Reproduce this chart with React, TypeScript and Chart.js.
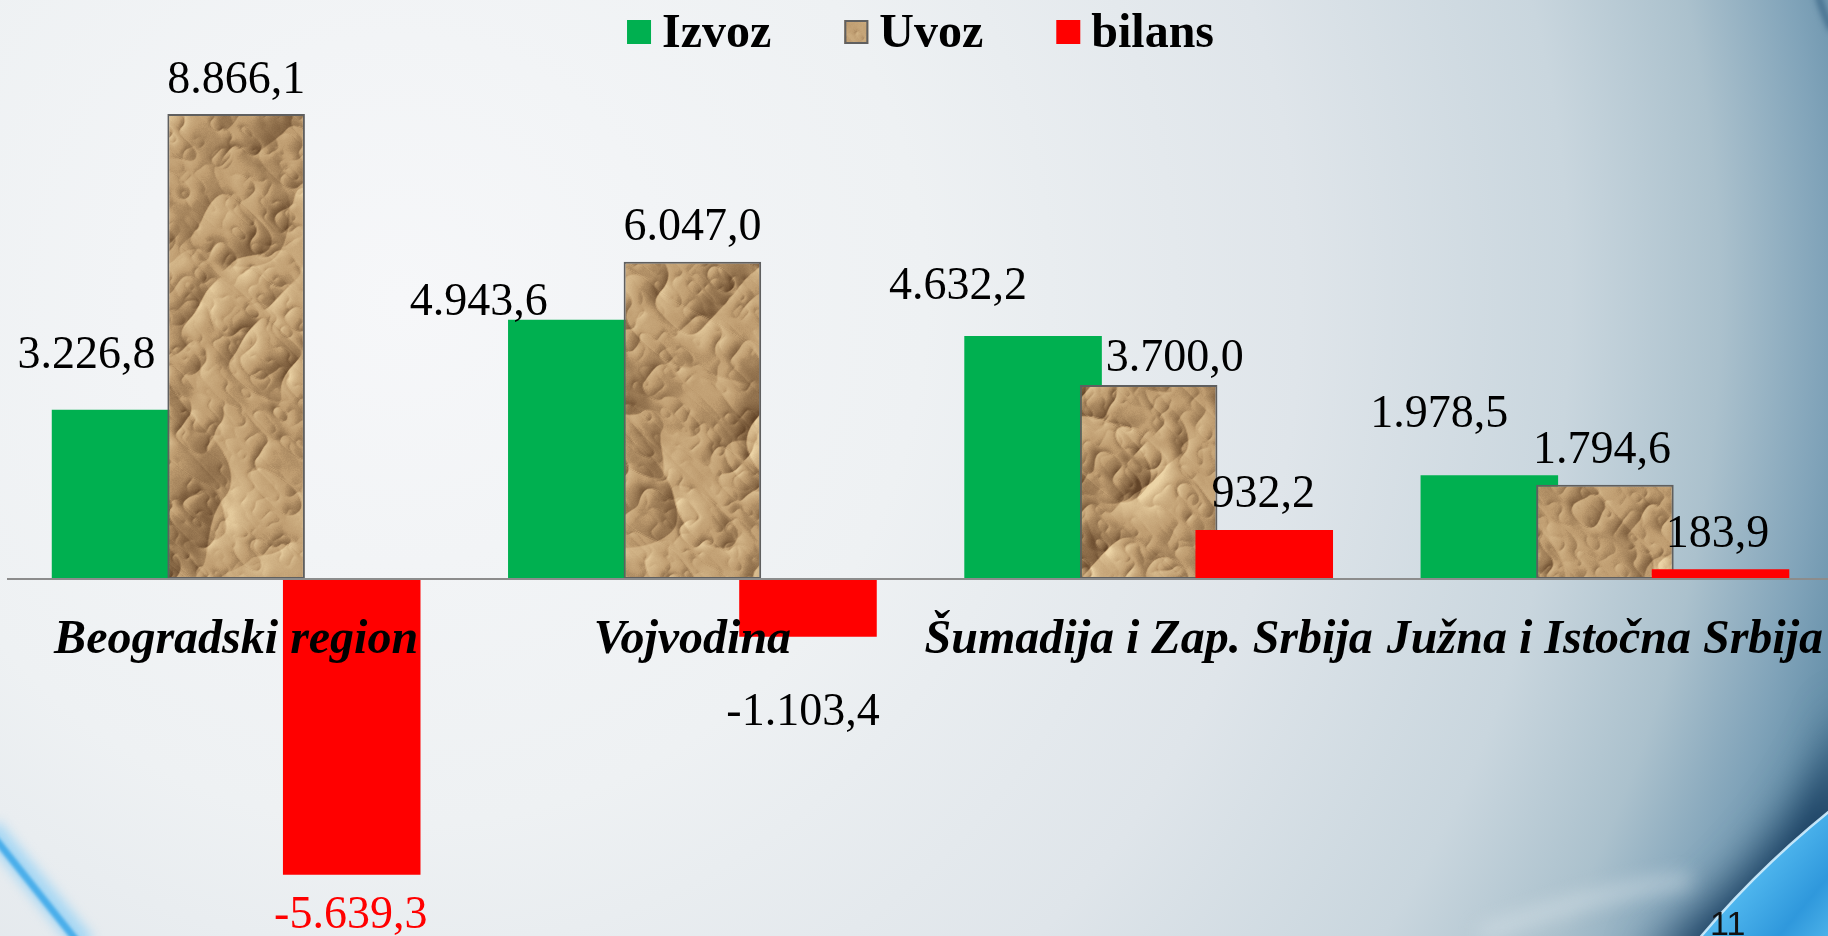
import React, { useEffect, useRef } from 'react';
import { Chart, registerables } from 'chart.js';

Chart.register(...registerables);

// ---------- data ----------
const categories = ['Beogradski region', 'Vojvodina', 'Šumadija i Zap. Srbija', 'Južna i Istočna Srbija'];
const seriesNames = ['Izvoz', 'Uvoz', 'bilans'];
const izvoz = [3226.8, 4943.6, 4632.2, 1978.5];
const uvoz = [8866.1, 6047.0, 3700.0, 1794.6];
const bilans = [-5639.3, -1103.4, 932.2, 183.9];
const yMin = -6000;
const yMax = 10000;

// ---------- label layout (px nudges from the default "outside end" place) ----------
const labelGap = 37;
const izvozNudge = [[-34, -20], [-98, 17], [-75, -16], [-50, -27]];
const uvozNudge = [[0, 0], [0, 0], [26, 8], [-3, 0]];
const bilansNudge = [[-1, 1], [-5, 36], [-1, -2], [-3, -1]];
const bilansLabelColors = ['#ff0000', '#000000', '#000000', '#000000'];

const GREEN = '#00b050';
const RED = '#ff0000';
const SERIF = '"Liberation Serif", "Times New Roman", serif';

function fmt(v: number): string {
  const s = Math.abs(v).toFixed(1);
  const [i, d] = s.split('.');
  const ii = i.replace(/\B(?=(\d{3})+(?!\d))/g, '.');
  return (v < 0 ? '-' : '') + ii + ',' + d;
}

// crumpled paper texture: deterministic hashed value noise, ridged, lit from upper-left.
function makePaperCanvas(W: number, H: number): HTMLCanvasElement {
  const hash = (x: number, y: number, sd: number) => {
    let h = Math.imul(x, 374761393) ^ Math.imul(y, 668265263) ^ Math.imul(sd, 2147483647);
    h = Math.imul(h ^ (h >>> 13), 1274126177);
    h = h ^ (h >>> 16);
    return ((h >>> 0) / 4294967296) * 2 - 1;
  };
  const noise = (x: number, y: number, sd: number) => {
    const ix = Math.floor(x), iy = Math.floor(y);
    let tx = x - ix, ty = y - iy;
    tx = tx * tx * (3 - 2 * tx); ty = ty * ty * (3 - 2 * ty);
    const a = hash(ix, iy, sd), b = hash(ix + 1, iy, sd);
    const c = hash(ix, iy + 1, sd), d = hash(ix + 1, iy + 1, sd);
    const top = a + (b - a) * tx, bot = c + (d - c) * tx;
    return top + (bot - top) * ty;
  };
  const octaves = [
    { scale: 70, amp: 1.0, sd: 11 },
    { scale: 34, amp: 0.5, sd: 23 },
    { scale: 16, amp: 0.22, sd: 37 },
    { scale: 8, amp: 0.07, sd: 51 },
  ];
  const ca = Math.cos(0.75), sa = Math.sin(0.75);
  const h = new Float32Array(W * H);
  for (let y = 0; y < H; y++) {
    for (let x = 0; x < W; x++) {
      const u = (x * ca + y * sa) / 1.6;
      const v = -x * sa + y * ca;
      let val = 0;
      for (const o of octaves) {
        const r = 1 - Math.abs(noise(u / o.scale, v / o.scale, o.sd));
        val += o.amp * r * r;
      }
      h[y * W + x] = val;
    }
  }
  const c = document.createElement('canvas');
  c.width = W; c.height = H;
  const g = c.getContext('2d')!;
  const img = g.createImageData(W, H);
  const dark = [98, 68, 40], mid = [190, 156, 112], light = [236, 212, 166];
  for (let y = 0; y < H; y++) {
    for (let x = 0; x < W; x++) {
      const xr = Math.min(W - 1, x + 1), xl = Math.max(0, x - 1);
      const yd = Math.min(H - 1, y + 1), yu = Math.max(0, y - 1);
      const gx = (h[y * W + xr] - h[y * W + xl]) / 2;
      const gy = (h[yd * W + x] - h[yu * W + x]) / 2;
      const lo = noise(x / 90, y / 90, 77);
      let sh = -(gx * 0.8 + gy * 0.6) * 15 + lo * 0.18 + hash(x, y, 91) * 0.04;
      sh = Math.max(-1, Math.min(1, sh));
      let col: number[];
      if (sh < 0) { const t = Math.pow(-sh, 0.85); col = mid.map((m, i) => m + (dark[i] - m) * t); }
      else { const t = sh; col = mid.map((m, i) => m + (light[i] - m) * t); }
      const o = (y * W + x) * 4;
      img.data[o] = col[0]; img.data[o + 1] = col[1]; img.data[o + 2] = col[2]; img.data[o + 3] = 255;
    }
  }
  g.putImageData(img, 0, 0);
  return c;
}

const backgroundPlugin = {
  id: 'slideBackground',
  beforeDraw(chart: any) {
    const ctx: CanvasRenderingContext2D = chart.ctx;
    const W = chart.width, H = chart.height;
    ctx.save();
    const rg = ctx.createRadialGradient(400, 300, 0, 400, 300, 1500);
    rg.addColorStop(0, '#f6f7f9');
    rg.addColorStop(0.35, '#eef1f3');
    rg.addColorStop(0.6, '#dfe5ea');
    rg.addColorStop(0.78, '#c9d6de');
    rg.addColorStop(0.88, '#abc1cd');
    rg.addColorStop(0.95, '#80a3b9');
    rg.addColorStop(1, '#5f8ba6');
    ctx.fillStyle = rg;
    ctx.fillRect(0, 0, W, H);

    ctx.save();
    ctx.filter = 'blur(3px)';
    ctx.strokeStyle = 'rgba(40,85,120,0.8)';
    ctx.lineWidth = 5;
    ctx.beginPath();
    ctx.moveTo(1818, -5);
    ctx.quadraticCurveTo(1824, 15, 1832, 30);
    ctx.stroke();
    ctx.restore();

    ctx.save();
    ctx.filter = 'blur(22px)';
    ctx.fillStyle = 'rgba(18,55,90,0.95)';
    ctx.beginPath();
    ctx.moveTo(1850, 700);
    ctx.quadraticCurveTo(1800, 850, 1640, 960);
    ctx.lineTo(1850, 990);
    ctx.closePath();
    ctx.fill();
    ctx.restore();

    ctx.save();
    ctx.filter = 'blur(10px)';
    ctx.strokeStyle = 'rgba(225,234,238,0.7)';
    ctx.lineWidth = 10;
    ctx.beginPath();
    ctx.moveTo(1480, 935);
    ctx.quadraticCurveTo(1600, 890, 1690, 880);
    ctx.stroke();
    ctx.restore();

    ctx.save();
    const cg = ctx.createLinearGradient(1720, 860, 1840, 960);
    cg.addColorStop(0, '#9fe0ff');
    cg.addColorStop(0.15, '#56bdf2');
    cg.addColorStop(0.6, '#2f98dc');
    cg.addColorStop(1, '#5cc0f0');
    ctx.fillStyle = cg;
    ctx.beginPath();
    ctx.moveTo(1850, 795);
    ctx.quadraticCurveTo(1765, 860, 1698, 940);
    ctx.lineTo(1850, 940);
    ctx.closePath();
    ctx.fill();
    ctx.strokeStyle = 'rgba(210,240,255,0.9)';
    ctx.lineWidth = 2.5;
    ctx.beginPath();
    ctx.moveTo(1850, 795);
    ctx.quadraticCurveTo(1765, 860, 1698, 940);
    ctx.stroke();
    ctx.restore();

    ctx.save();
    ctx.filter = 'blur(6px)';
    ctx.strokeStyle = 'rgba(150,210,245,0.8)';
    ctx.lineWidth = 22;
    ctx.beginPath();
    ctx.moveTo(-10, 828);
    ctx.lineTo(85, 945);
    ctx.stroke();
    ctx.restore();
    ctx.save();
    ctx.filter = 'blur(1.5px)';
    ctx.strokeStyle = '#4aaeea';
    ctx.lineWidth = 7;
    ctx.beginPath();
    ctx.moveTo(-10, 832);
    ctx.lineTo(80, 945);
    ctx.stroke();
    ctx.restore();
    ctx.restore();
  },
};

const drawOrderPlugin = {
  id: 'drawOrder',
  beforeDatasetsDraw(chart: any) {
    for (let i = 0; i < chart.data.datasets.length; i++) {
      const meta = chart.getDatasetMeta(i);
      if (!meta.hidden) meta.controller.draw();
    }
    return false;
  },
};

function makeOverlayPlugin(paper: CanvasPattern | string) {
  return {
    id: 'overlay',
    afterDraw(chart: any) {
      const ctx: CanvasRenderingContext2D = chart.ctx;
      const area = chart.chartArea;
      ctx.save();

      // ---- data labels ----
      const nudges = [izvozNudge, uvozNudge, bilansNudge];
      const labelFont = 46;
      ctx.font = `${labelFont}px ${SERIF}`;
      ctx.textAlign = 'center';
      ctx.textBaseline = 'alphabetic';
      chart.data.datasets.forEach((ds: any, i: number) => {
        const meta = chart.getDatasetMeta(i);
        meta.data.forEach((el: any, j: number) => {
          const v = ds.data[j] as number;
          const { x, y } = el.getProps(['x', 'y'], true);
          const centerY = v >= 0 ? y - labelGap : y + labelGap;
          const [dx, dy] = nudges[i][j];
          ctx.fillStyle = i === 2 ? bilansLabelColors[j] : '#000000';
          ctx.fillText(fmt(v), x + dx, centerY + dy + labelFont * 0.338);
        });
      });

      // ---- legend ----
      const lf = 48;
      ctx.font = `bold ${lf}px ${SERIF}`;
      ctx.textAlign = 'left';
      const box = 24, gapText = 11, gapItem = 73;
      const widths = seriesNames.map((n) => ctx.measureText(n).width);
      const total = widths.reduce((a, w) => a + box + gapText + w, 0) + gapItem * (seriesNames.length - 1);
      let lx = (area.left + area.right) / 2 - total / 2;
      const boxTop = 20;
      const fills: any[] = [GREEN, paper, RED];
      seriesNames.forEach((n, k) => {
        ctx.fillStyle = fills[k];
        ctx.fillRect(lx, boxTop, box, box);
        if (k === 1) {
          ctx.strokeStyle = '#606060';
          ctx.lineWidth = 2;
          ctx.strokeRect(lx + 1, boxTop + 1, box - 2, box - 2);
        }
        ctx.fillStyle = '#000000';
        ctx.fillText(n, lx + box + gapText, 47);
        lx += box + gapText + widths[k] + gapItem;
      });

      // ---- slide number ----
      ctx.font = '34px "Liberation Sans", Arial, sans-serif';
      ctx.fillStyle = '#111111';
      ctx.fillText('11', 1710, 935);
      ctx.restore();
    },
  };
}

export default function App() {
  const ref = useRef<HTMLCanvasElement | null>(null);

  useEffect(() => {
    document.body.style.margin = '0';
    const canvas = ref.current!;
    const ctx = canvas.getContext('2d')!;
    const paper = ctx.createPattern(makePaperCanvas(canvas.width, 620), 'repeat') || '#c6a476';

    const chart = new Chart(ctx, {
      type: 'bar',
      data: {
        labels: categories,
        datasets: [
          { label: seriesNames[0], data: izvoz, backgroundColor: GREEN, borderWidth: 0 },
          { label: seriesNames[1], data: uvoz, backgroundColor: paper as any, borderColor: '#5f5f5f', borderWidth: 2, borderSkipped: false },
          { label: seriesNames[2], data: bilans, backgroundColor: RED, borderWidth: 0 },
        ],
      },
      options: {
        responsive: false,
        animation: false,
        devicePixelRatio: 1,
        categoryPercentage: 0.76,
        barPercentage: 1.19,
        layout: { padding: { left: 8, right: 8, top: 54.5, bottom: 42.3 } },
        plugins: {
          legend: { display: false },
          tooltip: { enabled: false },
          title: { display: false },
        },
        scales: {
          x: {
            position: { y: 0 } as any,
            grid: { display: false, drawTicks: false },
            border: { display: true, color: '#8c8c8c', width: 2, z: 1 },
            ticks: {
              z: 2,
              autoSkip: false,
              maxRotation: 0,
              minRotation: 0,
              padding: 33,
              color: '#000000',
              font: { family: SERIF, size: 48, weight: 'bold', style: 'italic' },
            },
          },
          y: {
            display: false,
            min: yMin,
            max: yMax,
            grid: { display: false },
          },
        },
      } as any,
      plugins: [backgroundPlugin, drawOrderPlugin, makeOverlayPlugin(paper)],
    });
    return () => chart.destroy();
  }, []);

  return (
    <div style={{ position: 'fixed', left: 0, top: 0, width: 1828, height: 936, overflow: 'hidden' }}>
      <canvas ref={ref} width={1857} height={936} style={{ display: 'block', width: 1857, height: 936 }} />
    </div>
  );
}
